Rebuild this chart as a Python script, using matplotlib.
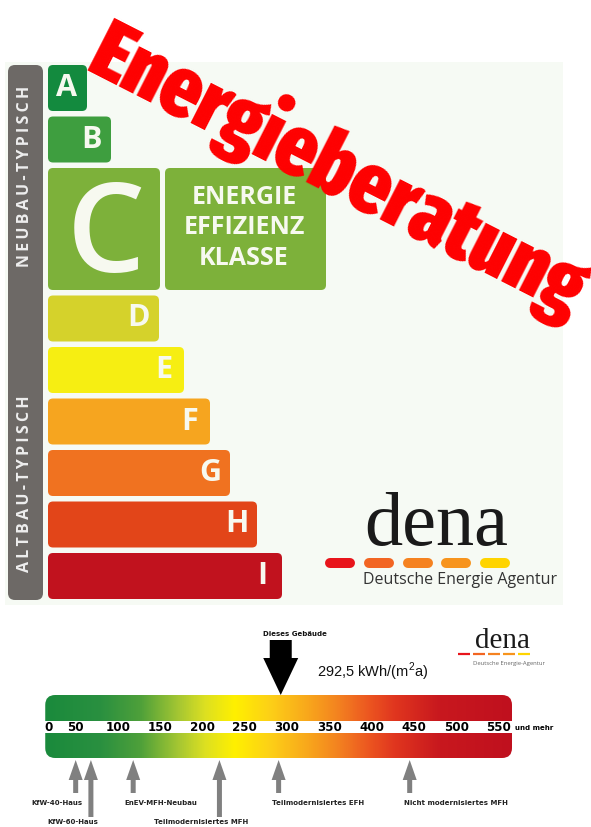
import matplotlib
matplotlib.use("Agg")
import matplotlib.pyplot as plt
import matplotlib.patches as patches
from matplotlib.colors import LinearSegmentedColormap
import numpy as np

# --- top label: energy efficiency classes ---
classes = ["A", "B", "C", "D", "E", "F", "G", "H", "I"]
class_length = [39, 63, 112, 111, 136, 162, 182, 209, 234]   # bar length in px
class_colors = ["#138A3E", "#3E9E3F", "#7DB13A", "#D5D22B", "#F6EE12",
                "#F6A51F", "#F07220", "#E24519", "#C1121E"]
class_height = [46, 46, 122, 46, 46, 46, 46, 46, 46]

# --- bottom scale (kWh/(m2a)) ---
scale_ticks = [0, 50, 100, 150, 200, 250, 300, 350, 400, 450, 500, 550]
building_value = 292.5
ref_labels = ["KfW-40-Haus", "KfW-60-Haus", "EnEV-MFH-Neubau",
              "Teilmodernisiertes MFH", "Teilmodernisiertes EFH",
              "Nicht modernisiertes MFH"]
ref_values = [50, 68, 118, 220, 290, 445]
ref_row = [0, 1, 0, 1, 0, 0]
ref_label_x = [28, 47, 151, 198, 337, 500]

# gradient stops (kWh, colour)
grad_stops = [(14, "#1A8A3C"), (79, "#2A9040"), (126, "#4EA03A"), (173, "#A8C832"),
              (203, "#DDE021"), (238, "#FFF000"), (280, "#FDD017"), (327, "#F8A51C"),
              (363, "#F38020"), (398, "#EC5520"), (428, "#E0361F"), (481, "#C8181E"),
              (566, "#C0101E")]

dena_dash_colors = ["#E8141B", "#F26522", "#F58220", "#F7941D", "#FFD400"]

fig = plt.figure(figsize=(5.91, 8.27), dpi=100)
ax = fig.add_axes([0, 0, 1, 1])
ax.set_xlim(0, 591)
ax.set_ylim(827, 0)
ax.set_axis_off()

# light panel background
ax.add_patch(patches.Rectangle((5, 62), 558, 543, facecolor="#F6FAF4",
                               edgecolor="none", zorder=0))

# grey side bar with letter-spaced captions
ax.add_patch(patches.FancyBboxPatch((8, 65), 35, 535,
                                    boxstyle="round,pad=0,rounding_size=7",
                                    facecolor="#6D6966", edgecolor="none", zorder=1))
for label, yc in [("NEUBAU-TYPISCH", 176), ("ALTBAU-TYPISCH", 484)]:
    ax.text(25.5, yc, "\u2009".join(label), rotation=90, ha="center", va="center",
            color="#EEEEEE", fontsize=11.5, fontweight="bold",
            family=["Open Sans", "DejaVu Sans"])

y = 65
for lab, length, col, h in zip(classes, class_length, class_colors, class_height):
    ax.add_patch(patches.FancyBboxPatch((48, y), length, h,
                                        boxstyle="round,pad=0,rounding_size=5",
                                        facecolor=col, edgecolor="none", zorder=2))
    if lab == "C":
        ax.text(105.5, y + 104, lab, ha="center", va="baseline",
                color="#F7F9F0", fontsize=89, fontweight="semibold",
                family="Open Sans", zorder=3)
        ax.add_patch(patches.FancyBboxPatch((165, y), 161, h,
                                            boxstyle="round,pad=0,rounding_size=5",
                                            facecolor=col, edgecolor="none", zorder=2))
        ax.text(244, y + h / 2 - 1, "ENERGIE\nEFFIZIENZ\nKLASSE", ha="center",
                va="center", multialignment="center", linespacing=1.3,
                color="#F7F9F0", fontsize=18, fontweight="bold",
                family="Open Sans", zorder=3)
    else:
        ax.text(48 + length - 20, y + h / 2, lab, ha="center", va="center",
                color="#F7F9F0", fontsize=22, fontweight="bold",
                family="Open Sans", zorder=3)
    y += h + 5.5

# dena logo (large)
ax.text(436, 545, "dena", ha="center", va="baseline", family="Liberation Serif",
        fontsize=55, color="#1A1A1A")
for i, c in enumerate(dena_dash_colors):
    x0 = 325 + i * 38.8
    ax.plot([x0 + 5, x0 + 25], [563, 563], color=c, lw=7.2,
            solid_capstyle="round")
ax.text(363, 580, "Deutsche Energie Agentur", ha="left", va="center",
        family="Open Sans", fontsize=11.5, color="#333333")

# dena logo (small)
ax.text(502, 648, "dena", ha="center", va="baseline", family="Liberation Serif",
        fontsize=21, color="#1A1A1A")
for i, c in enumerate(dena_dash_colors):
    x0 = 458 + i * 15
    ax.plot([x0, x0 + 12], [654, 654], color=c, lw=1.6, solid_capstyle="butt")
ax.text(473, 663, "Deutsche Energie-Agentur", ha="left", va="center",
        family="Open Sans", fontsize=4.2, color="#666666")

# red stamp, sized so its length matches the reference (~545 px)
stamp = ax.text(338, 172, "Energieberatung", rotation=0, rotation_mode="anchor",
                ha="center", va="center", color="#FF0000", fontsize=60,
                fontweight=900,
                family=["Fira Sans Extra Condensed", "Barlow Condensed", "DejaVu Sans"],
                zorder=10)
renderer = fig.canvas.get_renderer()
w = stamp.get_window_extent(renderer).width
stamp.set_fontsize(60 * 545 / w)
stamp.set_rotation(-27)

# --- bottom scale axes, x in kWh/(m2a) ---
px_per_unit = 0.8456
ax2 = fig.add_axes([0, 0, 1, 1])
ax2.patch.set_visible(False)
ax2.set_axis_off()

sx0, sx1 = grad_stops[0][0], grad_stops[-1][0]
cmap = LinearSegmentedColormap.from_list(
    "scale", [((v - sx0) / (sx1 - sx0), c) for v, c in grad_stops])
grad = np.linspace(sx0, sx1, 800)[None, :]
im = ax2.imshow(grad, extent=(sx0, sx1, 758, 695), aspect="auto", cmap=cmap,
                vmin=sx0, vmax=sx1, zorder=1, interpolation="bilinear")
bar = patches.FancyBboxPatch((sx0, 695), sx1 - sx0, 63,
                             boxstyle="round,pad=0,rounding_size=%f" % (10 / px_per_unit),
                             mutation_aspect=px_per_unit,
                             facecolor="none", edgecolor="none")
ax2.add_patch(bar)
im.set_clip_path(bar)
ax2.add_patch(patches.Rectangle((sx0, 721), sx1 - sx0, 12, facecolor="white",
                                edgecolor="none", zorder=2))
ax2.set_xlim(-33.4 / px_per_unit, (591 - 33.4) / px_per_unit)
ax2.set_ylim(827, 0)

for v in scale_ticks:
    # "0" sits at the rounded left end of the bar
    ax2.text(max(v, 18), 727.5, str(v), ha="center", va="center", fontsize=8.6,
             fontweight="bold", color="black", zorder=3)
ax2.text(569, 728, "und mehr", ha="left", va="center", fontsize=5,
         fontweight="bold", color="black")

# this building
ax2.add_patch(patches.FancyArrow(building_value, 640, 0, 55,
                                 width=22 / px_per_unit,
                                 head_width=35 / px_per_unit, head_length=37,
                                 length_includes_head=True, facecolor="black",
                                 edgecolor="none", zorder=4))
ax2.text(309, 634, "Dieses Gebäude", ha="center", va="center", fontsize=5,
         fontweight="bold", color="#111111")
value_txt = ("%.1f" % building_value).replace(".", ",")
ax2.text(335, 672, value_txt + r" kWh/(m$^\mathregular{2}$a)", ha="left",
         va="center", family="Liberation Sans", fontsize=10.5, color="#111111")

# reference buildings
for v, lab, row, lx in zip(ref_values, ref_labels, ref_row, ref_label_x):
    tail = 793 if row == 0 else 817
    ax2.add_patch(patches.FancyArrow(v, tail, 0, 760 - tail,
                                     width=5 / px_per_unit,
                                     head_width=14 / px_per_unit, head_length=20,
                                     length_includes_head=True,
                                     facecolor="#808080", edgecolor="none"))
    ax2.text(lx, 803 if row == 0 else 822, lab, ha="center", va="center",
             fontsize=5, fontweight="bold", color="#222222")

fig.savefig("out.png", dpi=100)
